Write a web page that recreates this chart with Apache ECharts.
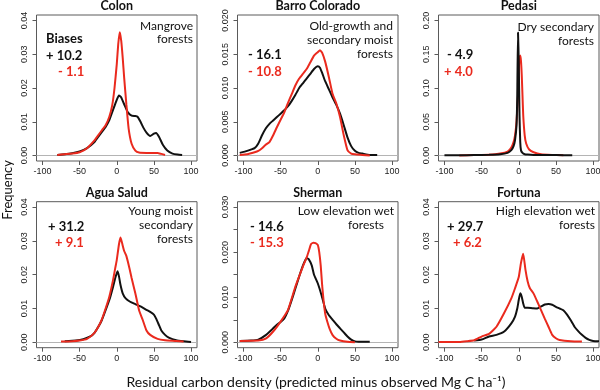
<!DOCTYPE html>
<html><head><meta charset="utf-8">
<script src="https://cdn.jsdelivr.net/npm/echarts@6/dist/echarts.min.js"></script>
<style>html,body{margin:0;padding:0;background:#fff}#c{width:600px;height:390px}</style>
</head><body><div id="c"></div>
<script>
// ---------- DATA ----------
const panelTitles = ['Colon', 'Barro Colorado', 'Pedasi', 'Agua Salud', 'Sherman', 'Fortuna'];
const forestTypes = [
  ['Mangrove', 'forests'],
  ['Old-growth and', 'secondary moist', 'forests'],
  ['Dry secondary', 'forests'],
  ['Young moist', 'secondary', 'forests'],
  ['Low elevation wet', 'forests'],
  ['High elevation wet', 'forests']
];
const biasBlack = ['+ 10.2', '- 16.1', '- 4.9', '+ 31.2', '- 14.6', '+ 29.7'];
const biasRed = ['- 1.1', '- 10.8', '+ 4.0', '+ 9.1', '- 15.3', '+ 6.2'];
const xTicks = [-100, -50, 0, 50, 100];
const yMax = [0.04, 0.02, 0.20, 0.04, 0.03, 0.04];
const yTicks = [
  [0, 0.01, 0.02, 0.03, 0.04],
  [0, 0.005, 0.01, 0.015, 0.02],
  [0, 0.05, 0.10, 0.15, 0.20],
  [0, 0.01, 0.02, 0.03, 0.04],
  [0, 0.005, 0.01, 0.015, 0.02, 0.025, 0.03],
  [0, 0.01, 0.02, 0.03, 0.04]
];
const yTickLabels = [
  [0, 0.01, 0.02, 0.03, 0.04],
  [0, 0.005, 0.01, 0.015, 0.02],
  [0, 0.05, 0.10, 0.15, 0.20],
  [0, 0.01, 0.02, 0.03, 0.04],
  [0, 0.01, 0.02, 0.03],
  [0, 0.01, 0.02, 0.03, 0.04]
];
const yDecimals = [2, 3, 2, 2, 3, 2];

// Colon
const colonBlackX = [-80,-70,-60,-50,-40,-30,-25,-20,-15,-10,-5,0,3,6,10,15,20,25,28,32,36,40,45,50,53,57,62,68,75,82,88];
const colonBlackY = [0.0002,0.0004,0.0007,0.0012,0.0022,0.0040,0.0055,0.0070,0.0085,0.0105,0.0135,0.0165,0.0178,0.0172,0.0152,0.0128,0.0118,0.0117,0.0115,0.0100,0.0082,0.0068,0.0058,0.0065,0.0067,0.0055,0.0032,0.0015,0.0006,0.0003,0.0002];
const colonRedX = [-80,-70,-60,-50,-40,-30,-25,-20,-15,-10,-6,-3,0,2,4,6,8,10,13,16,20,25,30,40,50,55,60,65];
const colonRedY = [0.0002,0.0004,0.0006,0.0010,0.0022,0.0045,0.0060,0.0075,0.0090,0.0115,0.0150,0.0200,0.0270,0.0330,0.0365,0.0340,0.0290,0.0230,0.0150,0.0080,0.0035,0.0015,0.0009,0.0008,0.0008,0.0008,0.0005,0.0002];
// Barro Colorado
const barroBlackX = [-105,-95,-85,-80,-75,-70,-65,-60,-55,-50,-45,-40,-35,-30,-25,-20,-15,-10,-5,0,3,6,10,15,20,25,30,35,40,45,50,55,60,70,80];
const barroBlackY = [0.0004,0.0007,0.0011,0.0018,0.0030,0.0040,0.0047,0.0052,0.0057,0.0062,0.0067,0.0073,0.0081,0.0090,0.0100,0.0107,0.0114,0.0121,0.0128,0.0132,0.0130,0.0122,0.0110,0.0098,0.0086,0.0075,0.0062,0.0045,0.0027,0.0014,0.0007,0.0004,0.0003,0.0001,0.0001];
const barroRedX = [-105,-95,-85,-80,-75,-70,-65,-60,-55,-50,-45,-40,-35,-30,-25,-20,-15,-10,-5,0,3,6,10,15,20,25,30,35,40,45,50,60,70];
const barroRedY = [0.0001,0.0002,0.0005,0.0007,0.0011,0.0016,0.0020,0.0030,0.0042,0.0053,0.0064,0.0078,0.0091,0.0104,0.0114,0.0121,0.0128,0.0138,0.0148,0.0153,0.0156,0.0152,0.0139,0.0116,0.0091,0.0077,0.0057,0.0030,0.0008,0.0003,0.0002,0.0001,0.0];
// Pedasi
const pedasiBlackX = [-100,-80,-60,-40,-25,-15,-10,-7,-5,-3,-2,-1,0,1,2,3,5,8,12,20,35,50,72];
const pedasiBlackY = [0.0005,0.0005,0.0008,0.0012,0.002,0.004,0.008,0.014,0.023,0.045,0.09,0.182,0.14,0.06,0.02,0.008,0.004,0.002,0.0015,0.001,0.0008,0.0008,0.0005];
const pedasiRedX = [-80,-60,-40,-25,-15,-10,-7,-5,-3,-1,0,1,2,3,4,5,6,8,10,14,20,30,45,60];
const pedasiRedY = [0.0003,0.0008,0.0013,0.003,0.006,0.012,0.02,0.03,0.05,0.09,0.125,0.145,0.148,0.14,0.12,0.09,0.06,0.03,0.018,0.009,0.005,0.002,0.001,0.0005];
// Agua Salud
const aguaBlackX = [-70,-55,-45,-35,-30,-25,-20,-15,-10,-5,-2,1,3,5,8,12,18,25,32,40,45,50,53,57,60,65,70,80,90,100];
const aguaBlackY = [0.0003,0.0005,0.0009,0.0018,0.0028,0.0045,0.0066,0.0095,0.0125,0.0164,0.0190,0.0210,0.0195,0.0170,0.0145,0.0130,0.0120,0.0113,0.0106,0.0096,0.0090,0.0082,0.0070,0.0050,0.0035,0.0022,0.0014,0.0006,0.0003,0.0001];
const aguaRedX = [-75,-60,-50,-40,-30,-25,-20,-15,-10,-5,-2,0,3,5,7,10,13,17,20,25,30,35,40,45,55,65,80,90];
const aguaRedY = [0.0002,0.0003,0.0005,0.0010,0.0028,0.0045,0.0068,0.0100,0.0135,0.0184,0.0220,0.0243,0.0290,0.0310,0.0295,0.0270,0.0255,0.0220,0.0190,0.0145,0.0095,0.0066,0.0035,0.0022,0.0010,0.0006,0.0004,0.0002];
// Sherman
const shermanBlackX = [-105,-90,-80,-70,-60,-55,-50,-45,-40,-35,-30,-25,-20,-15,-12,-8,-5,0,5,10,15,20,25,30,35,40,45,50,55,70];
const shermanBlackY = [0.0003,0.0004,0.0006,0.0016,0.0031,0.0039,0.0045,0.0053,0.0070,0.0094,0.0120,0.0146,0.0170,0.0187,0.0184,0.0170,0.0150,0.0131,0.0105,0.0075,0.0060,0.0050,0.0040,0.0031,0.0022,0.0013,0.0006,0.0002,0.0001,0.0001];
const shermanRedX = [-105,-80,-70,-60,-50,-40,-30,-20,-15,-12,-9,-6,-3,0,2,4,6,8,10,13,16,20,25,30,40,50];
const shermanRedY = [0.0003,0.0004,0.0008,0.0024,0.0046,0.0072,0.0124,0.0168,0.0188,0.0203,0.0218,0.0221,0.0220,0.0216,0.0200,0.0170,0.0125,0.0090,0.0064,0.0045,0.0030,0.0016,0.0008,0.0004,0.0001,0.0];
// Fortuna
const fortunaBlackX = [-60,-50,-40,-30,-20,-10,-5,-2,0,2,4,6,8,12,18,25,30,35,40,45,50,55,60,65,70,75,80,85,90,95,100,108];
const fortunaBlackY = [0.0005,0.0008,0.0017,0.0022,0.0031,0.0056,0.0076,0.0100,0.0125,0.0145,0.0135,0.0115,0.0102,0.0102,0.0101,0.0100,0.0106,0.0112,0.0113,0.0111,0.0105,0.0100,0.0095,0.0082,0.0065,0.0046,0.0033,0.0022,0.0013,0.0007,0.0004,0.0003];
const fortunaRedX = [-108,-80,-70,-60,-50,-40,-30,-20,-10,-5,0,3,6,9,12,15,20,25,30,35,40,45,50,55,70,85];
const fortunaRedY = [0.0001,0.0001,0.0003,0.0006,0.0017,0.0025,0.0046,0.0085,0.0130,0.0160,0.0193,0.0235,0.0262,0.0215,0.0180,0.0160,0.0144,0.0120,0.0095,0.0070,0.0046,0.0022,0.0012,0.0007,0.0003,0.0002];

const blackSeries = [[colonBlackX,colonBlackY],[barroBlackX,barroBlackY],[pedasiBlackX,pedasiBlackY],[aguaBlackX,aguaBlackY],[shermanBlackX,shermanBlackY],[fortunaBlackX,fortunaBlackY]];
const redSeries = [[colonRedX,colonRedY],[barroRedX,barroRedY],[pedasiRedX,pedasiRedY],[aguaRedX,aguaRedY],[shermanRedX,shermanRedY],[fortunaRedX,fortunaRedY]];

// ---------- LAYOUT / STYLE ----------
const RED = '#ea2a1e', BLACK = '#111111', BOX = '#5a5a5a';
const tickFont = 'Liberation Sans';
const textFont = 'Lato';
const GL = 36.5, GT = 15, GW = 160.5, GH = 146, DX = 201, DY = 186.7;
const XMIN = -108, XMAX = 108;

const zip = (xs, ys) => xs.map((x, i) => [x, ys[i]]);
const grids = [], xAxes = [], yAxes = [], series = [], graphics = [];

const annoRight = [193, 393, 594, 193, 394, 595];
const annoLineRight = [null, null, null, null, [394, 384], null];
const annoY0 = [26, 26, 27, 211.5, 211, 211];
const annoDY = [13.5, 14, 14, 13.8, 14, 14];
const biasLeft = [[46, 58], [248, 248], [447, 444], [48, 55], [250, 250], [447, 453]];
const biasY = [[56, 72], [55, 72], [55, 72], [226.7, 243.3], [227.3, 243.3], [226.7, 243.3]];

for (let i = 0; i < 6; i++) {
  const col = i % 3, row = Math.floor(i / 3);
  const left = GL + DX * col, top = GT + DY * row;
  grids.push({ left, top, width: GW, height: GH, show: true, borderColor: BOX, borderWidth: 1, backgroundColor: 'transparent', containLabel: false, outerBoundsMode: 'none' });
  xAxes.push({
    type: 'value', gridIndex: i, min: XMIN, max: XMAX, position: 'bottom',
    axisLine: { show: false, onZero: false }, splitLine: { show: false },
    axisTick: { show: true, inside: false, length: 4, lineStyle: { color: BOX }, customValues: xTicks },
    axisLabel: { show: true, customValues: xTicks, fontFamily: tickFont, fontSize: 9, color: '#222', margin: 6, formatter: v => String(Math.round(v)) }
  });
  const ym = yMax[i], dec = yDecimals[i];
  yAxes.push({
    type: 'value', gridIndex: i, min: -0.04 * ym, max: 1.04 * ym, position: 'left',
    axisLine: { show: false, onZero: false }, splitLine: { show: false },
    axisTick: { show: true, inside: false, length: 4, lineStyle: { color: BOX }, customValues: yTicks[i] },
    axisLabel: { show: true, customValues: yTickLabels[i], rotate: 90, fontFamily: tickFont, fontSize: 9, color: '#222', margin: 7, formatter: v => v.toFixed(dec) }
  });
  series.push({
    type: 'line', xAxisIndex: i, yAxisIndex: i, data: zip(blackSeries[i][0], blackSeries[i][1]),
    showSymbol: false, smooth: 0.15, clip: true, lineStyle: { color: BLACK, width: 2 }, itemStyle: { color: BLACK }, silent: true, z: 3,
    markLine: { silent: true, symbol: 'none', label: { show: false }, lineStyle: { color: '#b4b4b4', width: 1, type: 'solid' }, data: [{ yAxis: 0 }], animation: false, z: 1 }
  });
  series.push({
    type: 'line', xAxisIndex: i, yAxisIndex: i, data: zip(redSeries[i][0], redSeries[i][1]),
    showSymbol: false, smooth: 0.15, clip: true, lineStyle: { color: RED, width: 2 }, itemStyle: { color: RED }, silent: true, z: i === 2 ? 2 : 4
  });
  graphics.push({ type: 'text', style: { text: panelTitles[i], x: left + GW / 2, y: top - 9, textAlign: 'center', textVerticalAlign: 'middle', font: 'bold 12.5px ' + textFont, fill: '#111' } });
  forestTypes[i].forEach((line, k) => {
    const r = annoLineRight[i] ? annoLineRight[i][k] : annoRight[i];
    graphics.push({ type: 'text', style: { text: line, x: r, y: annoY0[i] + annoDY[i] * k, textAlign: 'right', textVerticalAlign: 'middle', font: '12px ' + textFont, fill: '#111' } });
  });
  graphics.push({ type: 'text', style: { text: biasBlack[i], x: biasLeft[i][0], y: biasY[i][0], textAlign: 'left', textVerticalAlign: 'middle', font: 'bold 13px ' + textFont, fill: '#111' } });
  graphics.push({ type: 'text', style: { text: biasRed[i], x: biasLeft[i][1], y: biasY[i][1], textAlign: 'left', textVerticalAlign: 'middle', font: 'bold 13px ' + textFont, fill: RED } });
}
graphics.push({ type: 'text', style: { text: 'Biases', x: 46, y: 39, textAlign: 'left', textVerticalAlign: 'middle', font: 'bold 13px ' + textFont, fill: '#111' } });
graphics.push({ type: 'text', rotation: Math.PI / 2, x: 8, y: 190, style: { text: 'Frequency', x: 0, y: 0, textAlign: 'center', textVerticalAlign: 'middle', font: '13px ' + textFont, fill: '#111' } });
graphics.push({ type: 'text', style: { text: 'Residual carbon density (predicted minus observed Mg C ha\u207B\u00B9)', x: 316, y: 382, textAlign: 'center', textVerticalAlign: 'middle', font: '14px ' + textFont, fill: '#111' } });

const chart = echarts.init(document.getElementById('c'), null, { renderer: 'canvas' });
chart.setOption({
  animation: false,
  backgroundColor: '#fff',
  grid: grids, xAxis: xAxes, yAxis: yAxes, series: series,
  graphic: graphics
});
</script>
</body></html>
